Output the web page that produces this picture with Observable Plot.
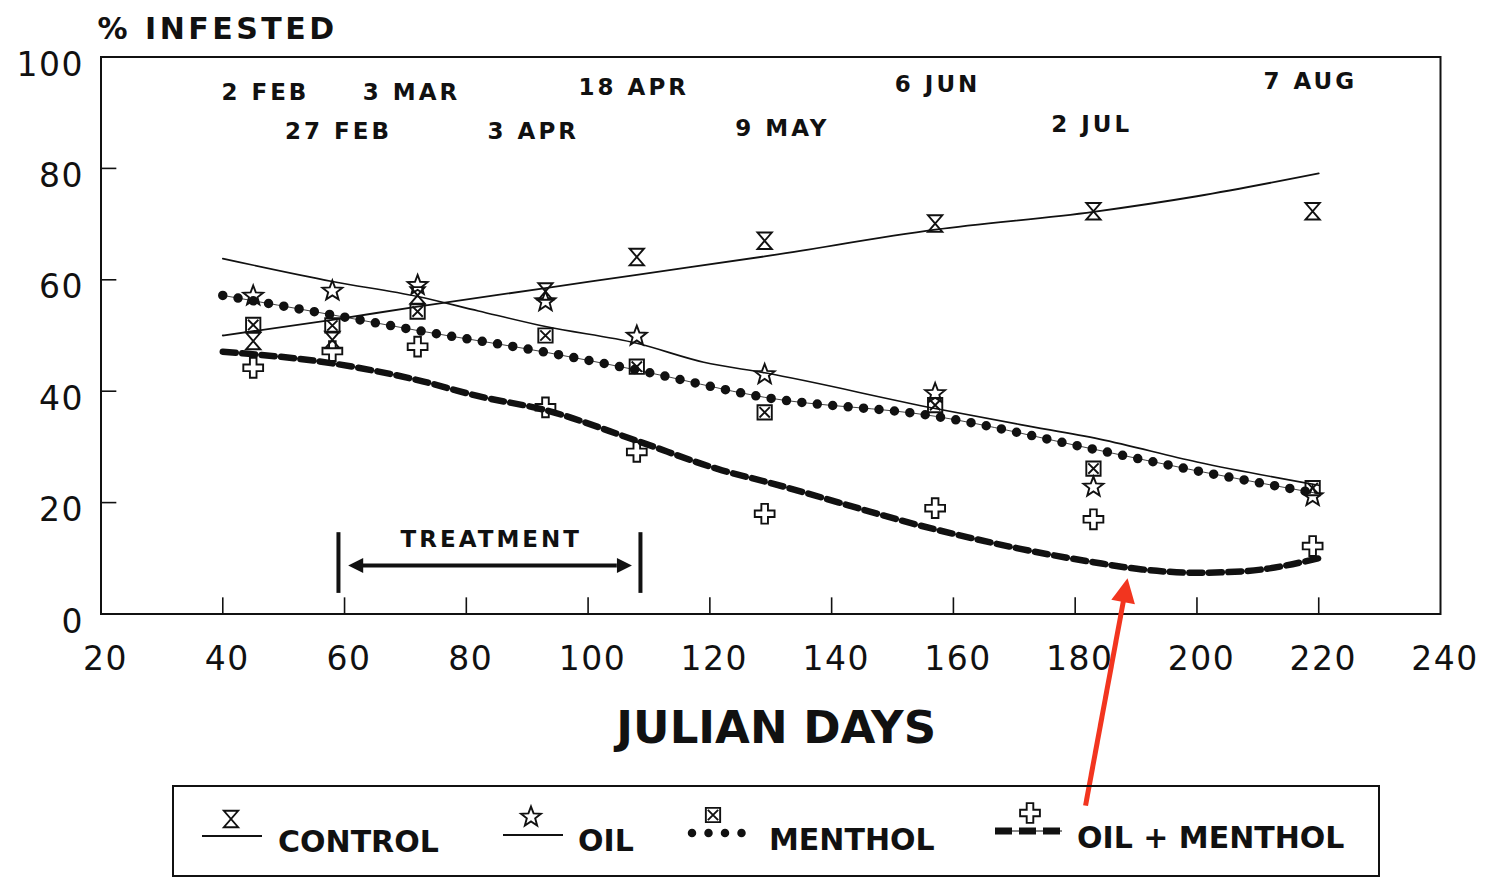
<!DOCTYPE html>
<html>
<head>
<meta charset="utf-8">
<script src="https://cdn.jsdelivr.net/npm/d3@7"></script>
<script src="https://cdn.jsdelivr.net/npm/@observablehq/plot@0.6"></script>
<style>
  body { margin: 0; background: #fff; }
  #wrap { position: relative; width: 1486px; height: 880px; overflow: hidden; font-family: "DejaVu Sans", sans-serif; color: #111; }
  #chart svg { position: absolute; left: 0; top: 0; overflow: visible; }
  #chart g[font-size="23"] text { letter-spacing: 3px; }
  #chart g[font-size="30"] text { letter-spacing: 3.5px; }
  #chart g[font-size="33"] text { letter-spacing: 1.5px; }
  #legend { position: absolute; left: 172px; top: 785px; width: 1208px; height: 92px; box-sizing: border-box; border: 2px solid #111; }
  #legend svg { position: absolute; left: -2px; top: -2px; }
</style>
</head>
<body>
<div id="wrap">
  <div id="chart"></div>
  <div id="legend"></div>
</div>
<script>
// ---------- data ----------
const sampleDays = [45, 58, 72, 93, 108, 129, 157, 183, 219];
const controlObs = [49.0, 49.2, 57.2, 57.9, 64.1, 67.0, 70.1, 72.3, 72.3];
const oilObs     = [57.1, 58.0, 59.0, 56.1, 49.9, 43.0, 39.6, 22.8, 21.1];
const mentholObs = [51.9, 51.8, 54.3, 50.0, 44.4, 36.2, 37.5, 26.1, 22.6];
const oilMenObs  = [44.2, 47.2, 48.0, 37.1, 29.1, 18.0, 19.0, 17.0, 12.2];

const controlFitDays = [40, 58, 72, 93, 108, 129, 157, 183, 200, 220];
const controlFit     = [50.0, 52.8, 55.2, 58.5, 60.9, 64.2, 69.0, 72.2, 75.0, 79.1];
const oilFitDays = [40, 58, 72, 82, 93, 108, 119, 129, 157, 171, 184, 200, 220];
const oilFit     = [63.8, 59.7, 57.0, 54.4, 51.6, 48.6, 45.2, 43.3, 36.9, 34.0, 31.4, 27.3, 23.1];
const mentholFitDays = [40, 58, 72, 93, 108, 129, 157, 183, 200, 220];
const mentholFit     = [57.2, 53.7, 50.9, 47.0, 43.8, 38.9, 35.5, 29.6, 25.7, 21.6];
const oilMenFitDays = [40, 58, 72, 82, 93, 108, 122, 129, 157, 171, 183, 191, 200, 208, 220];
const oilMenFit     = [47.1, 45.0, 42.0, 39.1, 36.6, 31.1, 25.8, 23.8, 15.2, 11.7, 9.3, 8.0, 7.4, 7.7, 10.0];

const xTickLabels = [20, 40, 60, 80, 100, 120, 140, 160, 180, 200, 220, 240];
const yTickLabels = [0, 20, 40, 60, 80, 100];

const dateText = ["2 FEB", "3 MAR", "27 FEB", "3 APR", "18 APR", "9 MAY", "6 JUN", "2 JUL", "7 AUG"];
const dateDay  = [47.0, 71.0, 59.0, 91.0, 107.5, 131.9, 157.4, 182.7, 218.6];
const dateRow  = [92.3, 92.3, 85.2, 85.2, 93.1, 85.9, 93.8, 86.6, 94.3];

const treatmentStart = 59.0, treatmentEnd = 108.6;
const seriesNames = ["CONTROL", "OIL", "MENTHOL", "OIL + MENTHOL"];

// ---------- symbols ----------
const sc = size => Math.sqrt(size / Math.PI);
const hourglass = {draw(c, size) { const s = sc(size), a = 6.5*s, b = 7.5*s;
  c.moveTo(-a,-b); c.lineTo(a,-b); c.lineTo(-a,b); c.lineTo(a,b); c.closePath(); }};
const star5 = {draw(c, size) { const s = sc(size), R = 9.5*s, r = 4*s;
  for (let i = 0; i < 10; i++) { const ang = -Math.PI/2 + i*Math.PI/5, rad = i % 2 ? r : R;
    const x = rad*Math.cos(ang), y = rad*Math.sin(ang); i ? c.lineTo(x,y) : c.moveTo(x,y); }
  c.closePath(); }};
const boxX = {draw(c, size) { const s = sc(size), a = 6.5*s, b = a - 1.8*s;
  c.moveTo(-a,-a); c.lineTo(a,-a); c.lineTo(a,a); c.lineTo(-a,a); c.closePath();
  c.moveTo(-b,-b); c.lineTo(b,b); c.moveTo(b,-b); c.lineTo(-b,b); }};
const plusO = {draw(c, size) { const s = sc(size), e = 9*s, w = 3*s;
  const p = [[-w,-e],[w,-e],[w,-w],[e,-w],[e,w],[w,w],[w,e],[-w,e],[-w,w],[-e,w],[-e,-w],[-w,-w]];
  p.forEach(([x,y],i) => i ? c.lineTo(x,y) : c.moveTo(x,y)); c.closePath(); }};
const head = {draw(c, size) { const s = sc(size);
  c.moveTo(0,0); c.lineTo(s, 2*s); c.lineTo(-s, 2*s); c.closePath(); }};

// ---------- tables ----------
const obs = (vals) => sampleDays.map((d,i) => ({day: d, value: vals[i]}));
const fit = (ds, vals) => ds.map((d,i) => ({day: d, value: vals[i]}));
const dates = dateText.map((t,i) => ({text: t, day: dateDay[i], value: dateRow[i]}));

const ink = "#111";
const red = "#f2351f";
const symStyle = {x: "day", y: "value", r: 1.1, fill: "none", stroke: ink, strokeWidth: 1.9};

const chart = Plot.plot({
  width: 1486, height: 783,
  marginLeft: 100.5, marginRight: 46, marginTop: 56.5, marginBottom: 169.5,
  x: {domain: [20, 240]},
  y: {domain: [0, 100]},
  style: {fontFamily: "DejaVu Sans", color: ink, background: "transparent", overflow: "visible"},
  marks: [
    Plot.frame({stroke: ink, strokeWidth: 2}),
    Plot.axisX({ticks: xTickLabels, tickSize: 0, tickPadding: 33, fontSize: 33, dx: 4.5, label: null}),
    Plot.axisY({ticks: yTickLabels, tickSize: 0, tickPadding: 17, fontSize: 33, dy: 8, label: null}),
    Plot.ruleX(xTickLabels.slice(1, -1), {y1: 0, y2: 2.9, stroke: ink, strokeWidth: 1.6}),
    Plot.ruleY(yTickLabels.slice(1, -1), {x1: 20, x2: 22.6, stroke: ink, strokeWidth: 1.6}),

    // fitted curves
    Plot.line(fit(controlFitDays, controlFit), {x: "day", y: "value", curve: "monotone-x", stroke: ink, strokeWidth: 1.8}),
    Plot.line(fit(oilFitDays, oilFit), {x: "day", y: "value", curve: "monotone-x", stroke: ink, strokeWidth: 1.6}),
    Plot.line(fit(mentholFitDays, mentholFit), {x: "day", y: "value", curve: "monotone-x", stroke: ink, strokeWidth: 0.8}),
    Plot.line(fit(mentholFitDays, mentholFit), {x: "day", y: "value", curve: "monotone-x", stroke: ink, strokeWidth: 9.5, strokeDasharray: "0,15.5", strokeLinecap: "round"}),
    Plot.line(fit(oilMenFitDays, oilMenFit), {x: "day", y: "value", curve: "monotone-x", stroke: ink, strokeWidth: 0.8}),
    Plot.line(fit(oilMenFitDays, oilMenFit), {x: "day", y: "value", curve: "monotone-x", stroke: ink, strokeWidth: 6.5, strokeDasharray: "13,6.5"}),

    // observations
    Plot.dot(obs(controlObs), {...symStyle, symbol: hourglass}),
    Plot.dot(obs(oilObs), {...symStyle, symbol: star5}),
    Plot.dot(obs(mentholObs), {...symStyle, symbol: boxX}),
    Plot.dot(obs(oilMenObs), {...symStyle, symbol: plusO}),

    // date labels
    Plot.text(dates, {x: "day", y: "value", text: "text", fontSize: 23, fontWeight: "bold", lineAnchor: "bottom", fill: ink}),

    // treatment bracket
    Plot.ruleX([treatmentStart, treatmentEnd], {y1: 3.7, y2: 14.6, stroke: ink, strokeWidth: 4}),
    Plot.ruleY([8.7], {x1: 63.0, x2: 104.8, stroke: ink, strokeWidth: 4}),
    Plot.dot([{day: 60.6, value: 8.7, rot: -90}, {day: 107.2, value: 8.7, rot: 90}],
      {x: "day", y: "value", rotate: "rot", symbol: head, r: 7.5, fill: ink, stroke: "none"}),
    Plot.text(["TREATMENT"], {x: 84.1, y: 12.1, text: d => d, fontSize: 23, fontWeight: "bold", lineAnchor: "bottom", fill: ink}),

    // titles
    Plot.text(["% INFESTED"], {frameAnchor: "top-left", text: d => d, dx: -3.5, dy: -18.5, lineAnchor: "bottom", textAnchor: "start", fontSize: 30, fontWeight: "bold", fill: ink}),
    Plot.text(["JULIAN DAYS"], {x: 130.9, y: -23.1, text: d => d, fontSize: 45, fontWeight: "bold", lineAnchor: "bottom", fill: ink}),

    // red annotation arrow
    Plot.link([{x1: 181.7, y1: -34.4, x2: 188.0, y2: 2.8}], {x1: "x1", y1: "y1", x2: "x2", y2: "y2", stroke: red, strokeWidth: 5}),
    Plot.dot([{day: 188.6, value: 6.4}], {x: "day", y: "value", symbol: head, r: 12, rotate: 10.6, fill: red, stroke: "none"})
  ]
});
document.getElementById("chart").appendChild(chart);

// ---------- legend ----------
const NS = "http://www.w3.org/2000/svg";
const lg = document.createElementNS(NS, "svg");
lg.setAttribute("width", 1208); lg.setAttribute("height", 92);
function el(tag, attrs) { const e = document.createElementNS(NS, tag); for (const k in attrs) e.setAttribute(k, attrs[k]); lg.appendChild(e); return e; }
function sym(type, x, y) { el("path", {d: d3.symbol(type, Math.PI * 1.21)(), transform: `translate(${x},${y})`, fill: "none", stroke: ink, "stroke-width": 1.9}); }
function label(t, x, y) { const e = el("text", {x, y, "font-family": "DejaVu Sans", "font-weight": "bold", "font-size": 30, fill: ink}); e.textContent = t; }
// control
el("line", {x1: 30, x2: 90, y1: 51, y2: 51, stroke: ink, "stroke-width": 2});
sym(hourglass, 59, 34); label(seriesNames[0], 106, 67);
// oil
el("line", {x1: 331, x2: 391, y1: 50, y2: 50, stroke: ink, "stroke-width": 2});
sym(star5, 359, 32); label(seriesNames[1], 406, 66);
// menthol
el("line", {x1: 520, x2: 570, y1: 48, y2: 48, stroke: ink, "stroke-width": 8.5, "stroke-dasharray": "0,16.5", "stroke-linecap": "round"});
sym(boxX, 541, 30); label(seriesNames[2], 597, 65);
// oil + menthol
el("line", {x1: 823, x2: 890, y1: 46, y2: 46, stroke: ink, "stroke-width": 1.2});
el("line", {x1: 823, x2: 890, y1: 46, y2: 46, stroke: ink, "stroke-width": 7, "stroke-dasharray": "17,7"});
sym(plusO, 858, 28); label(seriesNames[3], 905, 63);
document.getElementById("legend").appendChild(lg);
</script>
</body>
</html>
